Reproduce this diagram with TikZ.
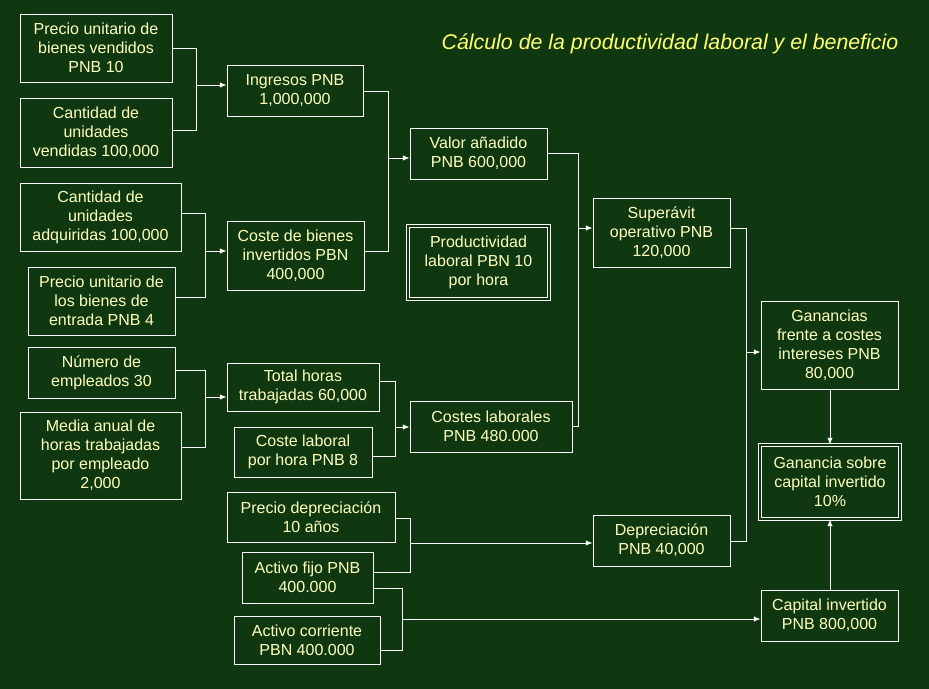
\documentclass[tikz,border=0pt]{standalone}
\usepackage{fontspec}
\setmainfont{Liberation Sans}
\usetikzlibrary{fit,arrows.meta}
\definecolor{bg}{RGB}{16,56,16}
\definecolor{tx}{RGB}{255,255,190}
\definecolor{tt}{RGB}{255,255,110}
\begin{document}
\begin{tikzpicture}[x=0.75pt,y=-0.75pt,
 box/.style={draw=white,line width=0.6pt,inner sep=0pt},
 dbl/.style={box,double=bg,double distance=1.8pt,line width=0.6pt},
 lbl/.style={align=center,text=tx,font=\fontsize{12}{14.2}\selectfont,inner sep=0pt},
 ln/.style={draw=white,line width=0.75pt},
 ar/.style={ln,-{Latex[length=5pt,width=4pt]}}]
\fill[bg] (0,0) rectangle (929,689);
\useasboundingbox (0,0) rectangle (929,689);
\node[anchor=east,text=tt,font=\fontsize{16}{18}\selectfont\itshape] (title) at (903,44) {Cálculo de la productividad laboral y el beneficio};
\newcommand\bx[7][box]{\node[#1,fit={(#3,#4)(#5,#6)}] (#2) {};\node[lbl] (#2t) at (#2.center) {#7};}
\bx{a}{20}{14}{172}{82}{Precio unitario de\\bienes vendidos\\PNB 10}
\bx{b}{20}{98}{172}{167}{Cantidad de\\unidades\\vendidas 100,000}
\bx{c}{227}{65}{363}{116}{Ingresos PNB\\1,000,000}
\bx{d}{20}{183}{181}{251}{Cantidad de\\unidades\\adquiridas 100,000}
\bx{e}{28}{267}{175}{335}{Precio unitario de\\los bienes de\\entrada PNB 4}
\bx{f}{227}{221}{364}{290}{Coste de bienes\\invertidos PBN\\400,000}
\bx{g}{410}{128}{547}{179}{Valor añadido\\PNB 600,000}
\bx[dbl]{h}{408}{226}{549}{299}{Productividad\\laboral PBN 10\\por hora}
\bx{i}{593}{198}{730}{267}{Superávit\\operativo PNB\\120,000}
\bx{j}{28}{347}{175}{398}{Número de\\empleados 30}
\bx{k}{20}{412}{181}{499}{Media anual de\\horas trabajadas\\por empleado\\2,000}
\bx{l}{227}{363}{379}{411}{Total horas\\trabajadas 60,000}
\bx{m}{234}{427}{372}{477}{Coste laboral\\por hora PNB 8}
\bx{n}{410}{401}{572}{452}{Costes laborales\\PNB 480.000}
\bx{o}{761}{301}{898}{389}{Ganancias\\frente a costes\\intereses PNB\\80,000}
\bx[dbl]{p}{760}{445}{900}{519}{Ganancia sobre\\capital invertido\\10\%}
\bx{q}{227}{492}{395}{542}{Precio depreciación\\10 años}
\bx{r}{242}{552}{373}{603}{Activo fijo PNB\\400.000}
\bx{s}{234}{616}{380}{664}{Activo corriente\\PBN 400.000}
\bx{t}{593}{515}{730}{566}{Depreciación\\PNB 40,000}
\bx{u}{761}{590}{898}{641}{Capital invertido\\PNB 800,000}
% brackets
\draw[ln] (a.east|-0,48) -- (196,48) -- (196,130) -- (b.east|-0,130);
\draw[ar] (196,85) -- (c.west|-0,85);
\draw[ln] (c.east|-0,91) -- (388,91) -- (388,251) -- (f.east|-0,251);
\draw[ar] (388,158) -- (g.west|-0,158);
\draw[ln] (d.east|-0,213) -- (205,213) -- (205,297) -- (e.east|-0,297);
\draw[ar] (205,251) -- (f.west|-0,251);
\draw[ln] (g.east|-0,153) -- (578,153) -- (578,426) -- (n.east|-0,426);
\draw[ar] (578,228) -- (i.west|-0,228);
\draw[ln] (j.east|-0,370) -- (205,370) -- (205,447) -- (k.east|-0,447);
\draw[ar] (205,397) -- (l.west|-0,397);
\draw[ln] (l.east|-0,381) -- (395,381) -- (395,456) -- (m.east|-0,456);
\draw[ar] (395,427) -- (n.west|-0,427);
\draw[ln] (i.east|-0,228) -- (746,228) -- (746,541) -- (t.east|-0,541);
\draw[ar] (746,352) -- (o.west|-0,352);
\draw[ar] (o.south-|830,0) -- (p.north-|830,0);
\draw[ln] (q.east|-0,518) -- (410,518) -- (410,572) -- (r.east|-0,572);
\draw[ar] (410,543) -- (t.west|-0,543);
\draw[ln] (r.east|-0,588) -- (402,588) -- (402,650) -- (s.east|-0,650);
\draw[ar] (402,619) -- (u.west|-0,619);
\draw[ar] (u.north-|830,0) -- (p.south-|830,0);
\end{tikzpicture}
\end{document}
